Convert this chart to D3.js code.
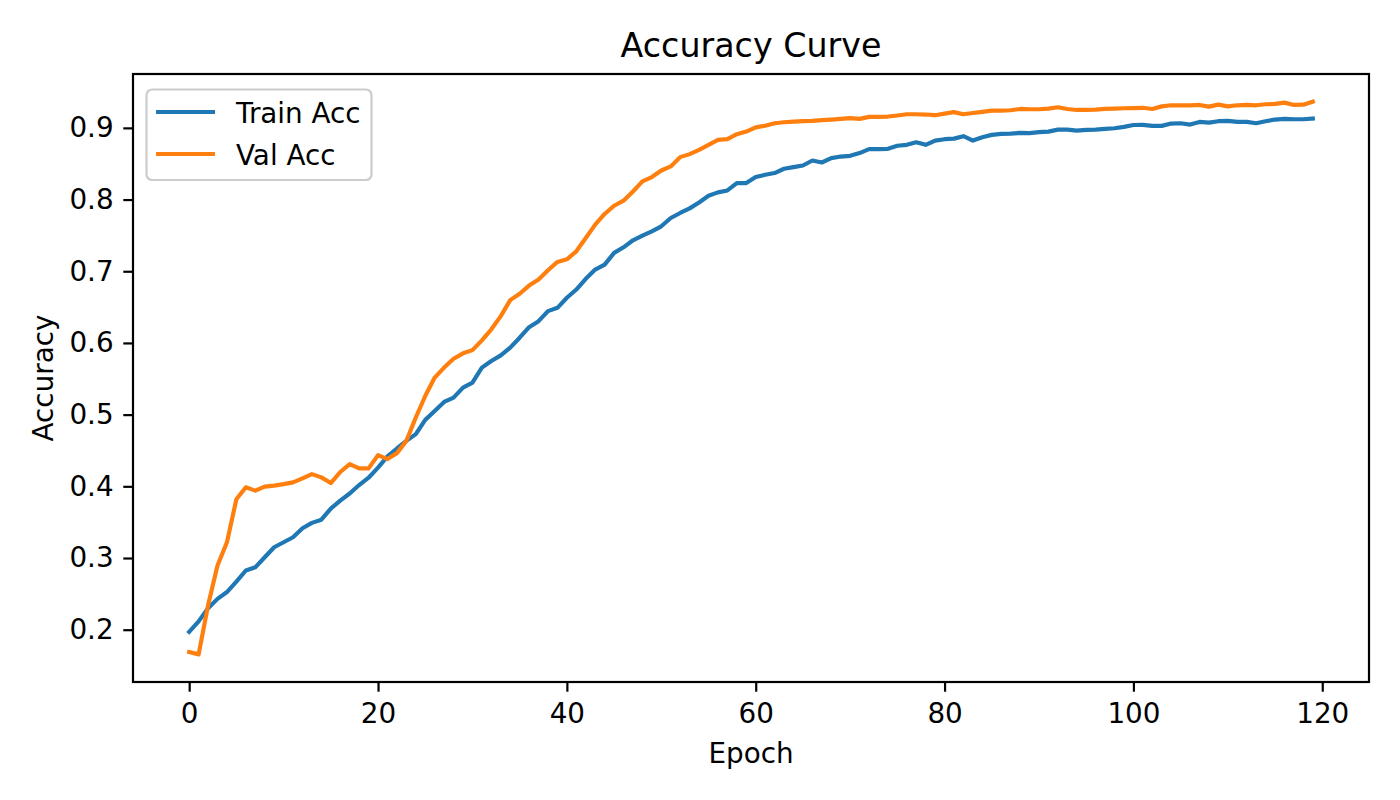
<!DOCTYPE html>
<html>
<head>
<meta charset="utf-8">
<script src="https://cdn.jsdelivr.net/npm/d3@7/dist/d3.min.js"></script>
<style>
  body { margin: 0; background: #fff; }
  svg { display: block; font-family: "DejaVu Sans", sans-serif; }
</style>
</head>
<body>
<svg id="chart" width="1400" height="800"></svg>
<script>
const title = "Accuracy Curve";
const xLabel = "Epoch";
const yLabel = "Accuracy";
const seriesNames = ["Train Acc", "Val Acc"];
const xTicks = [0, 20, 40, 60, 80, 100, 120];
const yTicks = [0.2, 0.3, 0.4, 0.5, 0.6, 0.7, 0.8, 0.9];

const trainAcc = [
  0.197, 0.2116, 0.230, 0.243, 0.2525, 0.267, 0.2826, 0.287, 0.301, 0.315,
  0.322, 0.329, 0.3415, 0.349, 0.3535, 0.369, 0.380, 0.390, 0.4018, 0.412,
  0.426, 0.4417, 0.4528, 0.4634, 0.4728, 0.4927, 0.505, 0.5177, 0.5238, 0.5377,
  0.5447, 0.5656, 0.5748, 0.5827, 0.5934, 0.6073, 0.622, 0.6304, 0.6444, 0.649,
  0.663, 0.6745, 0.6894, 0.7024, 0.7093, 0.7256, 0.7334, 0.7432, 0.7497, 0.7557,
  0.7627, 0.7743, 0.7813, 0.7877, 0.796, 0.8053, 0.810, 0.8127, 0.823, 0.823,
  0.8314, 0.8346, 0.837, 0.843, 0.8453, 0.8475, 0.8545, 0.8517, 0.8578, 0.860,
  0.861, 0.8648, 0.8703, 0.8703, 0.8708, 0.875, 0.8763, 0.880, 0.8763, 0.8823,
  0.8842, 0.885, 0.8884, 0.8823, 0.887, 0.8902, 0.8916, 0.892, 0.893, 0.8926,
  0.894, 0.8948, 0.8976, 0.8976, 0.8962, 0.8972, 0.8976, 0.8986, 0.8995, 0.9014,
  0.904, 0.9042, 0.9028, 0.9028, 0.906, 0.9065, 0.9046, 0.9083, 0.9074, 0.9093,
  0.9097, 0.9083, 0.9083, 0.9065, 0.9093, 0.9116, 0.9125, 0.912, 0.912, 0.913
];

const valAcc = [
  0.169, 0.1656, 0.234, 0.2895, 0.322, 0.382, 0.3986, 0.394, 0.3995, 0.401,
  0.403, 0.4055, 0.411, 0.417, 0.4125, 0.4046, 0.420, 0.431, 0.425, 0.425,
  0.4435, 0.438, 0.4463, 0.4634, 0.496, 0.526, 0.5517, 0.5656, 0.578, 0.5855,
  0.590, 0.6036, 0.619, 0.6374, 0.6597, 0.6686, 0.680, 0.6884, 0.7014, 0.713,
  0.7166, 0.7278, 0.7464, 0.765, 0.7799, 0.7914, 0.7984, 0.8113, 0.8253, 0.8314,
  0.8406, 0.8462, 0.8592, 0.8634, 0.8694, 0.8763, 0.8833, 0.8842, 0.8912, 0.8948,
  0.9007, 0.903, 0.9065, 0.9079, 0.9088, 0.9093, 0.9097, 0.9107, 0.9116, 0.9125,
  0.9135, 0.9125, 0.9153, 0.9153, 0.9158, 0.9172, 0.919, 0.919, 0.9186, 0.9177,
  0.9198, 0.922, 0.919, 0.9208, 0.9223, 0.924, 0.924, 0.9246, 0.9264, 0.926,
  0.926, 0.9269, 0.9288, 0.9264, 0.925, 0.925, 0.9255, 0.9264, 0.9269, 0.9274,
  0.9276, 0.928, 0.9264, 0.930, 0.9315, 0.9315, 0.9315, 0.932, 0.9296, 0.9324,
  0.930, 0.9315, 0.932, 0.9315, 0.9329, 0.9334, 0.9352, 0.932, 0.9324, 0.9366
];

const colors = ["#1f77b4", "#ff7f0e"];

const svg = d3.select("#chart");
const plot = { left: 133, right: 1369, top: 74, bottom: 682 };

const epochs = d3.range(trainAcc.length);
const xMin = 0, xMax = epochs.length - 1;
const xPad = (xMax - xMin) * 0.05;
const all = trainAcc.concat(valAcc);
const yMin = d3.min(all), yMax = d3.max(all);
const yPad = (yMax - yMin) * 0.05;

const x = d3.scaleLinear().domain([xMin - xPad, xMax + xPad]).range([plot.left, plot.right]);
const y = d3.scaleLinear().domain([yMin - yPad, yMax + yPad]).range([plot.bottom, plot.top]);

const FS = 27.8;
const tickLen = 9.7;
const spineW = 2.2;

// Axes
const xAxis = d3.axisBottom(x).tickValues(xTicks).tickFormat(d3.format("d"))
  .tickSize(tickLen).tickSizeOuter(0).tickPadding(12);
const gx = svg.append("g").attr("transform", `translate(0,${plot.bottom})`).call(xAxis);
gx.select(".domain").remove();
gx.selectAll("line").attr("stroke", "#000").attr("stroke-width", spineW);
gx.selectAll("text").attr("font-size", FS).attr("font-family", "DejaVu Sans").attr("fill", "#000");

const yAxis = d3.axisLeft(y).tickValues(yTicks).tickFormat(d3.format(".1f"))
  .tickSize(tickLen).tickSizeOuter(0).tickPadding(9.7);
const gy = svg.append("g").attr("transform", `translate(${plot.left},0)`).call(yAxis);
gy.select(".domain").remove();
gy.selectAll("line").attr("stroke", "#000").attr("stroke-width", spineW);
gy.selectAll("text").attr("font-size", FS).attr("font-family", "DejaVu Sans").attr("fill", "#000");

// Clip
svg.append("clipPath").attr("id", "clip").append("rect")
  .attr("x", plot.left).attr("y", plot.top)
  .attr("width", plot.right - plot.left).attr("height", plot.bottom - plot.top);

const line = d3.line().x((d, i) => x(i)).y(d => y(d));
const seriesData = [trainAcc, valAcc];
svg.append("g").attr("clip-path", "url(#clip)")
  .selectAll("path").data(seriesData).join("path")
  .attr("d", d => line(d))
  .attr("fill", "none")
  .attr("stroke", (d, i) => colors[i])
  .attr("stroke-width", 4.17)
  .attr("stroke-linejoin", "round")
  .attr("stroke-linecap", "square");

// Spines
svg.append("rect")
  .attr("x", plot.left).attr("y", plot.top)
  .attr("width", plot.right - plot.left).attr("height", plot.bottom - plot.top)
  .attr("fill", "none").attr("stroke", "#000").attr("stroke-width", spineW);

// Title and labels
svg.append("text").attr("x", (plot.left + plot.right) / 2).attr("y", 57.3)
  .attr("text-anchor", "middle").attr("font-size", 33.3).attr("fill", "#000").text(title);
svg.append("text").attr("x", (plot.left + plot.right) / 2).attr("y", 763)
  .attr("text-anchor", "middle").attr("font-size", FS).attr("fill", "#000").text(xLabel);
svg.append("text")
  .attr("transform", `translate(52.5,${(plot.top + plot.bottom) / 2}) rotate(-90)`)
  .attr("text-anchor", "middle").attr("font-size", FS).attr("fill", "#000").text(yLabel);

// Legend
const lg = svg.append("g");
lg.append("rect").attr("x", 146.5).attr("y", 89.5).attr("width", 225).attr("height", 90.5)
  .attr("rx", 5.5).attr("ry", 5.5)
  .attr("fill", "#fff").attr("fill-opacity", 0.8)
  .attr("stroke", "#cccccc").attr("stroke-width", 2.2);
const legendRows = lg.selectAll("g.row").data(seriesNames).join("g").attr("class", "row")
  .attr("transform", (d, i) => `translate(0,${112 + i * 42})`);
legendRows.append("line").attr("x1", 156).attr("x2", 215).attr("y1", 0).attr("y2", 0)
  .attr("stroke", (d, i) => colors[i]).attr("stroke-width", 4.17);
legendRows.append("text").attr("x", 236).attr("y", 10.5)
  .attr("font-size", FS).attr("fill", "#000").text(d => d);
</script>
</body>
</html>
